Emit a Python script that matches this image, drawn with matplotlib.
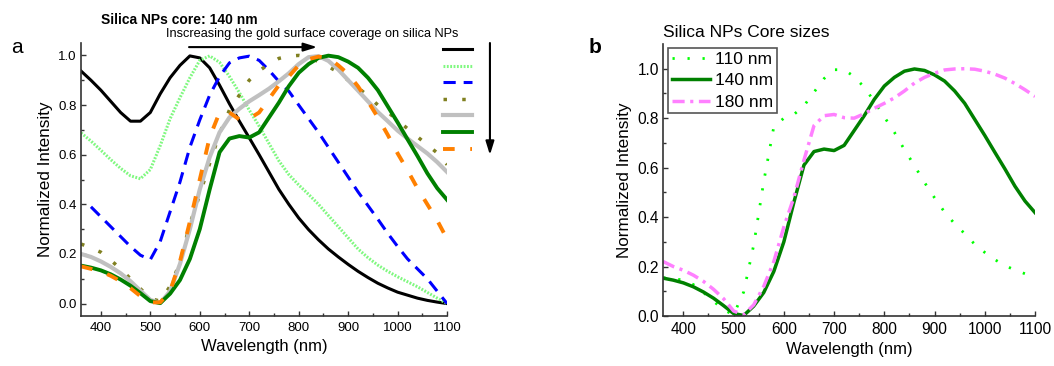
import numpy as np
import matplotlib
matplotlib.use('Agg')
import matplotlib.pyplot as plt

# wavelength grid (nm), same for every spectrum
wavelength = np.arange(360, 1101, 20)

# panel a: 140 nm silica core, increasing gold coverage (legend order)
cov_1 = [0.937, 0.90, 0.86, 0.815, 0.77, 0.735, 0.735, 0.77, 0.845, 0.91,
         0.96, 0.998, 0.99, 0.95, 0.88, 0.805, 0.735, 0.668, 0.60, 0.53,
         0.46, 0.40, 0.345, 0.298, 0.257, 0.22, 0.188, 0.158, 0.13, 0.105,
         0.082, 0.063, 0.046, 0.034, 0.022, 0.013, 0.006, 0.0]
cov_2 = [0.688, 0.655, 0.618, 0.58, 0.545, 0.515, 0.503, 0.54, 0.636, 0.745,
         0.83, 0.91, 0.98, 0.998, 0.972, 0.915, 0.85, 0.78, 0.715, 0.645,
         0.575, 0.52, 0.478, 0.44, 0.40, 0.355, 0.31, 0.265, 0.22, 0.185,
         0.155, 0.13, 0.108, 0.088, 0.068, 0.045, 0.022, 0.0]
cov_3 = [np.nan, 0.39, 0.35, 0.31, 0.27, 0.23, 0.195, 0.177, 0.25, 0.37,
         0.49, 0.63, 0.74, 0.84, 0.915, 0.97, 0.99, 0.997, 0.98, 0.94,
         0.895, 0.856, 0.80, 0.745, 0.69, 0.63, 0.57, 0.51, 0.45, 0.395,
         0.34, 0.283, 0.23, 0.18, 0.14, 0.10, 0.05, 0.0]
cov_4 = [0.24, 0.225, 0.207, 0.175, 0.14, 0.10, 0.06, 0.02, 0.01, 0.07,
         0.165, 0.32, 0.44, 0.565, 0.685, 0.78, 0.84, 0.90, 0.938, 0.965,
         0.988, 0.997, 1.0, 0.993, 0.975, 0.955, 0.932, 0.90, 0.87, 0.837,
         0.80, 0.772, 0.738, 0.705, 0.672, 0.64, 0.607, 0.56]
cov_5 = [0.20, 0.188, 0.17, 0.148, 0.122, 0.09, 0.052, 0.015, 0.002, 0.05,
         0.16, 0.30, 0.46, 0.59, 0.69, 0.75, 0.785, 0.815, 0.84, 0.866,
         0.896, 0.928, 0.965, 0.993, 0.997, 0.978, 0.943, 0.90, 0.858, 0.815,
         0.772, 0.735, 0.697, 0.665, 0.635, 0.605, 0.57, 0.53]
cov_6 = [0.153, 0.145, 0.134, 0.118, 0.097, 0.072, 0.042, 0.01, 0.002, 0.04,
         0.095, 0.18, 0.30, 0.46, 0.61, 0.665, 0.675, 0.669, 0.69, 0.75,
         0.81, 0.876, 0.93, 0.965, 0.99, 0.999, 0.993, 0.975, 0.95, 0.91,
         0.86, 0.795, 0.73, 0.662, 0.595, 0.525, 0.465, 0.418]
cov_7 = [0.15, 0.14, 0.13, 0.112, 0.09, 0.062, 0.03, 0.005, 0.005, 0.05,
         0.17, 0.33, 0.50, 0.67, 0.77, 0.77, 0.742, 0.745, 0.77, 0.825,
         0.88, 0.915, 0.96, 0.985, 0.995, 0.99, 0.96, 0.925, 0.875, 0.815,
         0.75, 0.68, 0.605, 0.537, 0.465, 0.40, 0.335, 0.26]

# panel b: core sizes
core_sizes = ['110 nm', '140 nm', '180 nm']
core_110 = [0.155, 0.15, 0.146, 0.127, 0.095, 0.06, 0.025, 0.005, 0.097, 0.287,
            0.544, 0.765, 0.80, 0.815, 0.85, 0.905, 0.96, 0.996, 0.996, 0.968,
            0.925, 0.868, 0.805, 0.743, 0.673, 0.608, 0.54, 0.478, 0.42, 0.373,
            0.333, 0.29, 0.257, 0.228, 0.204, 0.186, 0.171, 0.158]
core_140 = cov_6
core_180 = [0.22, 0.20, 0.185, 0.165, 0.14, 0.108, 0.07, 0.02, 0.005, 0.045,
            0.12, 0.22, 0.36, 0.48, 0.63, 0.77, 0.81, 0.815, 0.802, 0.80,
            0.818, 0.84, 0.86, 0.882, 0.91, 0.942, 0.965, 0.982, 0.995, 0.999,
            1.0, 0.998, 0.99, 0.978, 0.962, 0.94, 0.915, 0.888]

plt.rcParams['font.family'] = ['Liberation Sans', 'DejaVu Sans']

fig = plt.figure(figsize=(10.54, 3.66), dpi=100)
ax1 = fig.add_axes([0.0769, 0.1366, 0.3473, 0.7459])
ax2 = fig.add_axes([0.6293, 0.1366, 0.3527, 0.7432])


def style_axes(ax, ylim, tick_size):
    ax.set_xlim(360, 1100)
    ax.set_ylim(*ylim)
    ax.set_xticks(np.arange(400, 1101, 100))
    ax.set_xticks(np.arange(400, 1101, 50), minor=True)
    ax.set_yticks(np.arange(0, 1.01, 0.2))
    ax.set_yticks(np.arange(0, 1.01, 0.1), minor=True)
    ax.set_yticklabels(['%.1f' % v for v in np.arange(0, 1.01, 0.2)])
    ax.spines['top'].set_visible(False)
    ax.spines['right'].set_visible(False)
    for s in ('left', 'bottom'):
        ax.spines[s].set_color('#333333')
        ax.spines[s].set_linewidth(1.2)
    ax.tick_params(which='both', direction='in', width=1, color='#333333',
                   labelsize=tick_size)
    ax.tick_params(which='major', length=3.5)
    ax.tick_params(which='minor', length=2)
    ax.tick_params(axis='x', pad=4)
    ax.tick_params(axis='y', pad=3)
    ax.set_xlabel('Wavelength (nm)', fontsize=12)
    ax.set_ylabel('Normalized Intensity', fontsize=12.3)


# ---- panel a
lines_a = []
lines_a += ax1.plot(wavelength, cov_1, color='black', lw=2.2)
lines_a += ax1.plot(wavelength, cov_2, color='#80f880', lw=2.2, ls=(0, (0.6, 0.5)))
lines_a += ax1.plot(wavelength, cov_3, color='#0000ff', lw=2.2, ls=(0, (4, 2.6)))
lines_a += ax1.plot(wavelength, cov_4, color='#808020', lw=2.5, ls=(0, (1, 4.4)))
lines_a += ax1.plot(wavelength, cov_5, color='#c0c0c0', lw=3)
lines_a += ax1.plot(wavelength, cov_6, color='#008000', lw=2.8)
lines_a += ax1.plot(wavelength, cov_7, color='#ff8000', lw=2.8, ls=(0, (3, 4)))
style_axes(ax1, (-0.05, 1.05), 9.5)

ax1.legend(lines_a, [' '] * 7, loc='upper left', bbox_to_anchor=(0.989, 0.995),
           frameon=False, fontsize=9, handlelength=2.3, handletextpad=0,
           labelspacing=0.37, borderpad=0, borderaxespad=0)

# arrows
ax1.annotate('', xy=(0.645, 0.985), xytext=(0.295, 0.985), xycoords='axes fraction',
             arrowprops=dict(arrowstyle='-|>,head_width=0.25,head_length=0.8',
                             color='black', lw=1.5, shrinkA=0, shrinkB=0))
ax1.annotate('', xy=(1.117, 0.59), xytext=(1.117, 1.0), xycoords='axes fraction',
             arrowprops=dict(arrowstyle='-|>,head_width=0.25,head_length=0.8',
                             color='black', lw=1.5, shrinkA=0, shrinkB=0),
             annotation_clip=False)

fig.text(0.0958, 0.945, 'Silica NPs core: 140 nm', fontsize=10, fontweight='bold',
         va='center', ha='left')
fig.text(0.1575, 0.907, 'Inscreasing the gold surface coverage on silica NPs',
         fontsize=9.2, va='center', ha='left')
fig.text(0.0104, 0.855, 'a', fontsize=15)

# ---- panel b
ax2.plot(wavelength, core_110, color='#00ff00', lw=2, ls=(0, (0.8, 4.6)), label=core_sizes[0])
ax2.plot(wavelength, core_140, color='#008000', lw=2.5, label=core_sizes[1])
ax2.plot(wavelength, core_180, color='#ff80ff', lw=2.5, ls=(0, (3.5, 1.6, 0.9, 1.6)),
         label=core_sizes[2])
style_axes(ax2, (0, 1.1), 11.2)
ax2.set_title('Silica NPs Core sizes', loc='left', fontsize=12.5, pad=5)
leg = ax2.legend(loc='upper left', bbox_to_anchor=(0.0134, 0.985), fontsize=12.5,
                 handlelength=2.2, handletextpad=0.3, labelspacing=0.37,
                 borderpad=0.2, borderaxespad=0, fancybox=False, framealpha=1)
leg.get_frame().set_edgecolor('#555555')
leg.get_frame().set_linewidth(1.2)
fig.text(0.558, 0.855, 'b', fontsize=15, fontweight='bold')

fig.savefig('out.png', dpi=100)
